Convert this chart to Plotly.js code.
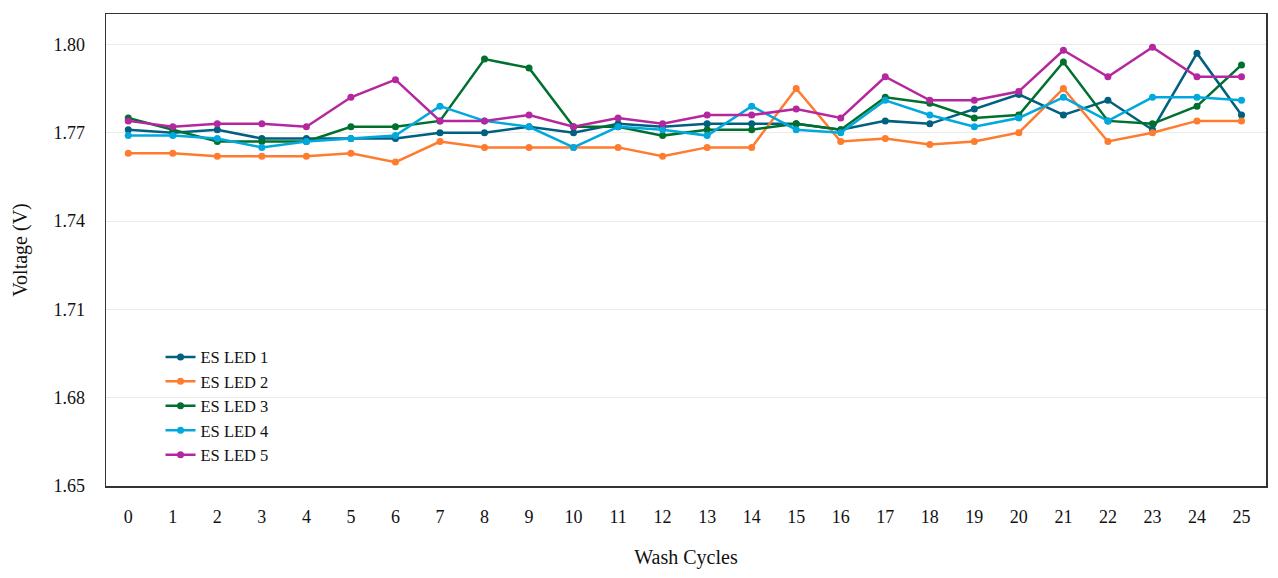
<!DOCTYPE html>
<html>
<head>
<meta charset="utf-8">
<script src="https://cdn.plot.ly/plotly-3.0.1.min.js"></script>
<style>html,body{margin:0;padding:0;background:#fff;}#chart{width:1278px;height:578px;}</style>
</head>
<body>
<div id="chart"></div>
<script>
const washCycles = [0,1,2,3,4,5,6,7,8,9,10,11,12,13,14,15,16,17,18,19,20,21,22,23,24,25];
const seriesNames = ["ES LED 1","ES LED 2","ES LED 3","ES LED 4","ES LED 5"];
const led1 = [1.771,1.770,1.771,1.768,1.768,1.768,1.768,1.770,1.770,1.772,1.770,1.773,1.772,1.773,1.773,1.773,1.771,1.774,1.773,1.778,1.783,1.776,1.781,1.771,1.797,1.776];
const led2 = [1.763,1.763,1.762,1.762,1.762,1.763,1.760,1.767,1.765,1.765,1.765,1.765,1.762,1.765,1.765,1.785,1.767,1.768,1.766,1.767,1.770,1.785,1.767,1.770,1.774,1.774];
const led3 = [1.775,1.771,1.767,1.767,1.767,1.772,1.772,1.774,1.795,1.792,1.772,1.772,1.769,1.771,1.771,1.773,1.771,1.782,1.780,1.775,1.776,1.794,1.774,1.773,1.779,1.793];
const led4 = [1.769,1.769,1.768,1.765,1.767,1.768,1.769,1.779,1.774,1.772,1.765,1.772,1.771,1.769,1.779,1.771,1.770,1.781,1.776,1.772,1.775,1.782,1.774,1.782,1.782,1.781];
const led5 = [1.774,1.772,1.773,1.773,1.772,1.782,1.788,1.774,1.774,1.776,1.772,1.775,1.773,1.776,1.776,1.778,1.775,1.789,1.781,1.781,1.784,1.798,1.789,1.799,1.789,1.789];
const yTicks = [1.65,1.68,1.71,1.74,1.77,1.80];
const yTickText = ["1.65","1.68","1.71","1.74","1.77","1.80"];
const colors = ["#00607f","#ff7b2e","#00702e","#00a8de","#b5279e"];

const allSeries = [led1,led2,led3,led4,led5];
const FONT = "Liberation Serif, DejaVu Serif, serif";
const traces = allSeries.map((ys,i)=>({
  x: washCycles, y: ys, name: seriesNames[i], type:'scatter', mode:'lines+markers',
  line:{color:colors[i], width:2.5}, marker:{color:colors[i], size:7}
}));

const layout = {
  width:1278, height:578,
  margin:{l:106, r:12, t:14, b:92},
  paper_bgcolor:'#fff', plot_bgcolor:'#fff',
  font:{family:FONT, size:17, color:'#111'},
  showlegend:true,
  legend:{x:0.047, y:0.31, xanchor:'left', yanchor:'top', bgcolor:'rgba(0,0,0,0)', font:{family:FONT, size:16.5, color:'#111'}, itemwidth:30, tracegroupgap:0},
  xaxis:{
    range:[-0.5,25.55], tickmode:'array', tickvals:washCycles, ticktext:washCycles.map(String),
    showgrid:false, zeroline:false, showline:true, mirror:true, linecolor:'#333', linewidth:1.5,
    ticks:'', ticklabelstandoff:14, tickfont:{family:FONT, size:18},
    title:{text:'Wash Cycles', font:{family:FONT, size:20}, standoff:24}
  },
  yaxis:{
    range:[1.65,1.8103], tickmode:'array', tickvals:yTicks, ticktext:yTickText,
    showgrid:true, gridcolor:'#ebebeb', gridwidth:1, zeroline:false, showline:true, mirror:true, linecolor:'#333', linewidth:1.5,
    ticks:'', ticklabelstandoff:16, tickfont:{family:FONT, size:18},
    title:{text:'Voltage (V)', font:{family:FONT, size:20}, standoff:20}
  }
};
Plotly.newPlot('chart', traces, layout, {displayModeBar:false, staticPlot:true});
</script>
</body>
</html>
